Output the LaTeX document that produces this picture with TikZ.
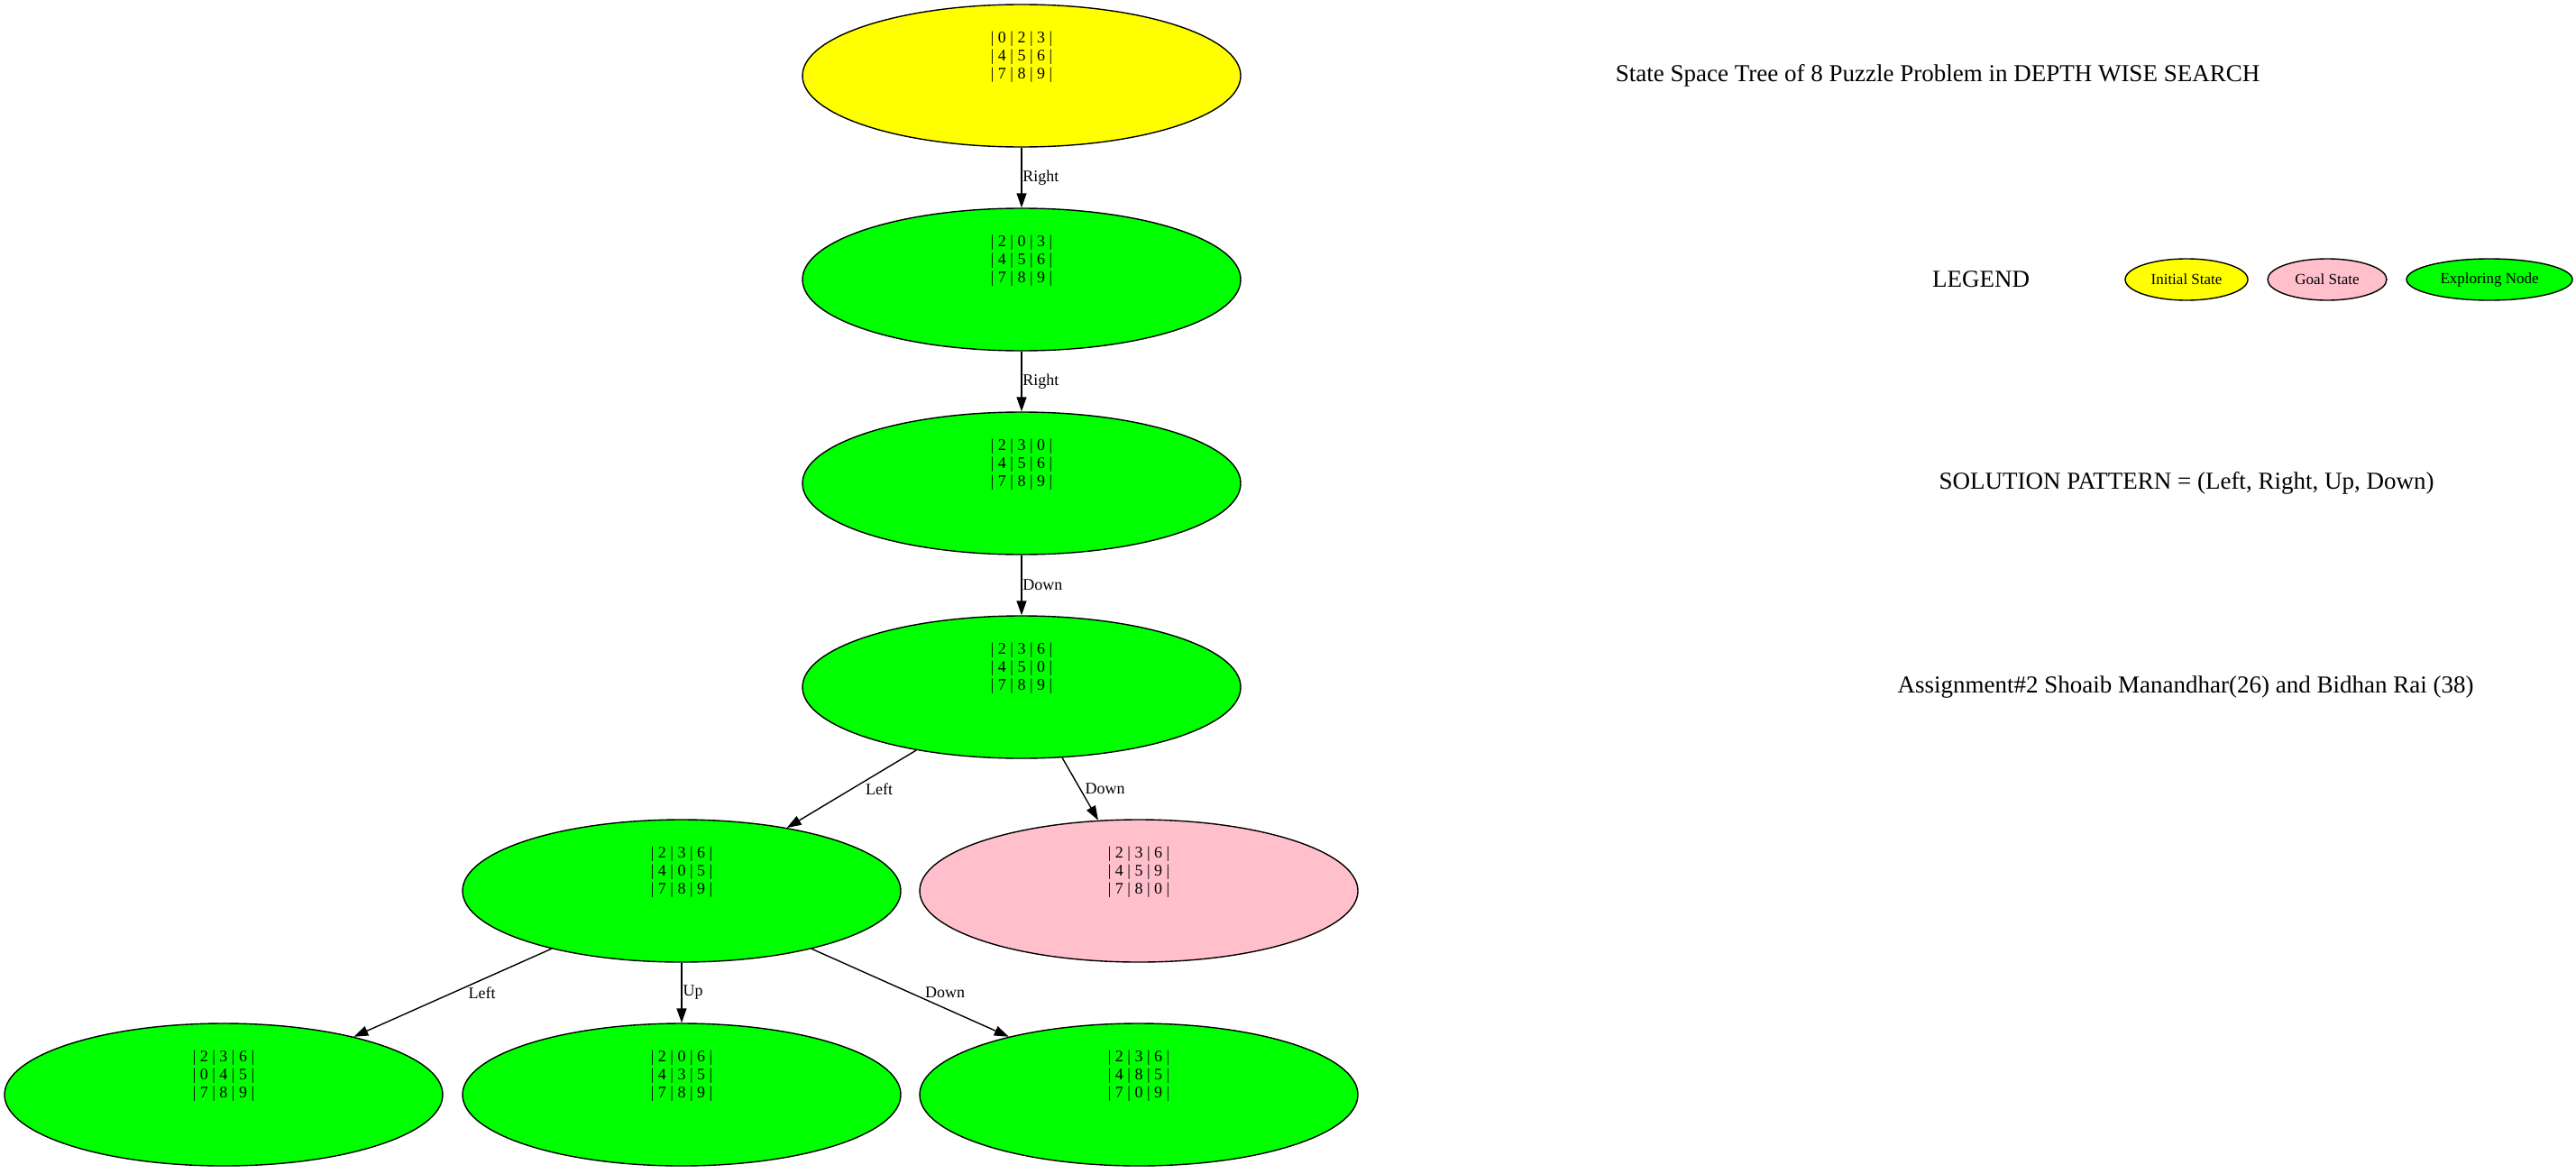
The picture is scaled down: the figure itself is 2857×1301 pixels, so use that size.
\documentclass[tikz,border=0pt]{standalone}
\usepackage{fontspec}
\setmainfont{Liberation Serif}
\usetikzlibrary{shapes.geometric,arrows.meta}
\definecolor{gvyellow}{RGB}{255,255,0}
\definecolor{gvgreen}{RGB}{0,255,0}
\definecolor{gvpink}{RGB}{255,192,203}
\begin{document}
\begin{tikzpicture}[x=0.5pt,y=-0.5pt,
  state/.style={ellipse, draw=black, line width=0.7pt, minimum width=243pt, minimum height=79pt, inner sep=0pt},
  grid/.style={align=center, font=\fontsize{9}{10}\selectfont, inner sep=0pt, yshift=10.5pt},
  lbl/.style={font=\fontsize{9}{10}\selectfont, inner sep=0pt, anchor=west, pos=0.5},
  conn/.style={draw, line width=0.7pt, -{Triangle[length=8pt,width=5.5pt]}},
  legendbox/.style={ellipse, draw=black, line width=0.7pt, minimum height=23pt, inner sep=0pt, font=\fontsize{8.5}{10}\selectfont},
  bigtext/.style={font=\fontsize{13.5}{16}\selectfont, inner sep=0pt}]
\useasboundingbox (0,0) rectangle (2857,1301);

% tree nodes
\node[state, fill=gvyellow] (n1) at (1133,84) {};
\node[grid] (t1) at (n1.center) {| 0 | 2 | 3 |\\| 4 | 5 | 6 |\\| 7 | 8 | 9 |};
\node[state, fill=gvgreen] (n2) at (1133,310) {};
\node[grid] (t2) at (n2.center) {| 2 | 0 | 3 |\\| 4 | 5 | 6 |\\| 7 | 8 | 9 |};
\node[state, fill=gvgreen] (n3) at (1133,536) {};
\node[grid] (t3) at (n3.center) {| 2 | 3 | 0 |\\| 4 | 5 | 6 |\\| 7 | 8 | 9 |};
\node[state, fill=gvgreen] (n4) at (1133,762) {};
\node[grid] (t4) at (n4.center) {| 2 | 3 | 6 |\\| 4 | 5 | 0 |\\| 7 | 8 | 9 |};
\node[state, fill=gvgreen] (n5) at (756,988) {};
\node[grid] (t5) at (n5.center) {| 2 | 3 | 6 |\\| 4 | 0 | 5 |\\| 7 | 8 | 9 |};
\node[state, fill=gvpink] (n6) at (1263,988) {};
\node[grid] (t6) at (n6.center) {| 2 | 3 | 6 |\\| 4 | 5 | 9 |\\| 7 | 8 | 0 |};
\node[state, fill=gvgreen] (n7) at (248,1214) {};
\node[grid] (t7) at (n7.center) {| 2 | 3 | 6 |\\| 0 | 4 | 5 |\\| 7 | 8 | 9 |};
\node[state, fill=gvgreen] (n8) at (756,1214) {};
\node[grid] (t8) at (n8.center) {| 2 | 0 | 6 |\\| 4 | 3 | 5 |\\| 7 | 8 | 9 |};
\node[state, fill=gvgreen] (n9) at (1263,1214) {};
\node[grid] (t9) at (n9.center) {| 2 | 3 | 6 |\\| 4 | 8 | 5 |\\| 7 | 0 | 9 |};

% edges
\draw[conn] (n1) -- node[lbl, xshift=0.3pt] (l1) {Right} (n2);
\draw[conn] (n2) -- node[lbl, xshift=0.3pt] (l2) {Right} (n3);
\draw[conn] (n3) -- node[lbl, xshift=0.3pt] (l3) {Down} (n4);
\draw[conn] (n4) -- node[lbl, xshift=7.5pt] (l4) {Left} (n5);
\draw[conn] (n4) -- node[lbl, xshift=2.5pt] (l5) {Down} (n6);
\draw[conn] (n5) -- node[lbl, xshift=8.5pt] (l6) {Left} (n7);
\draw[conn] (n5) -- node[lbl, xshift=0.5pt] (l7) {Up} (n8);
\draw[conn] (n5) -- node[lbl, xshift=8pt] (l8) {Down} (n9);

% right side texts
\node[bigtext] (title) at (2149,84) {State Space Tree of 8 Puzzle Problem in DEPTH WISE SEARCH};
\node[bigtext] (legend) at (2197,310) {LEGEND};
\node[legendbox, fill=gvyellow, minimum width=68pt] (lg1) at (2425,310) {Initial State};
\node[legendbox, fill=gvpink, minimum width=66pt] (lg2) at (2581,310) {Goal State};
\node[legendbox, fill=gvgreen, minimum width=92pt] (lg3) at (2761,310) {Exploring Node};
\node[bigtext] (sol) at (2425,536) {SOLUTION PATTERN = (Left, Right, Up, Down)};
\node[bigtext] (asg) at (2424,762) {Assignment\#2 Shoaib Manandhar(26) and Bidhan Rai (38)};
\end{tikzpicture}
\end{document}
